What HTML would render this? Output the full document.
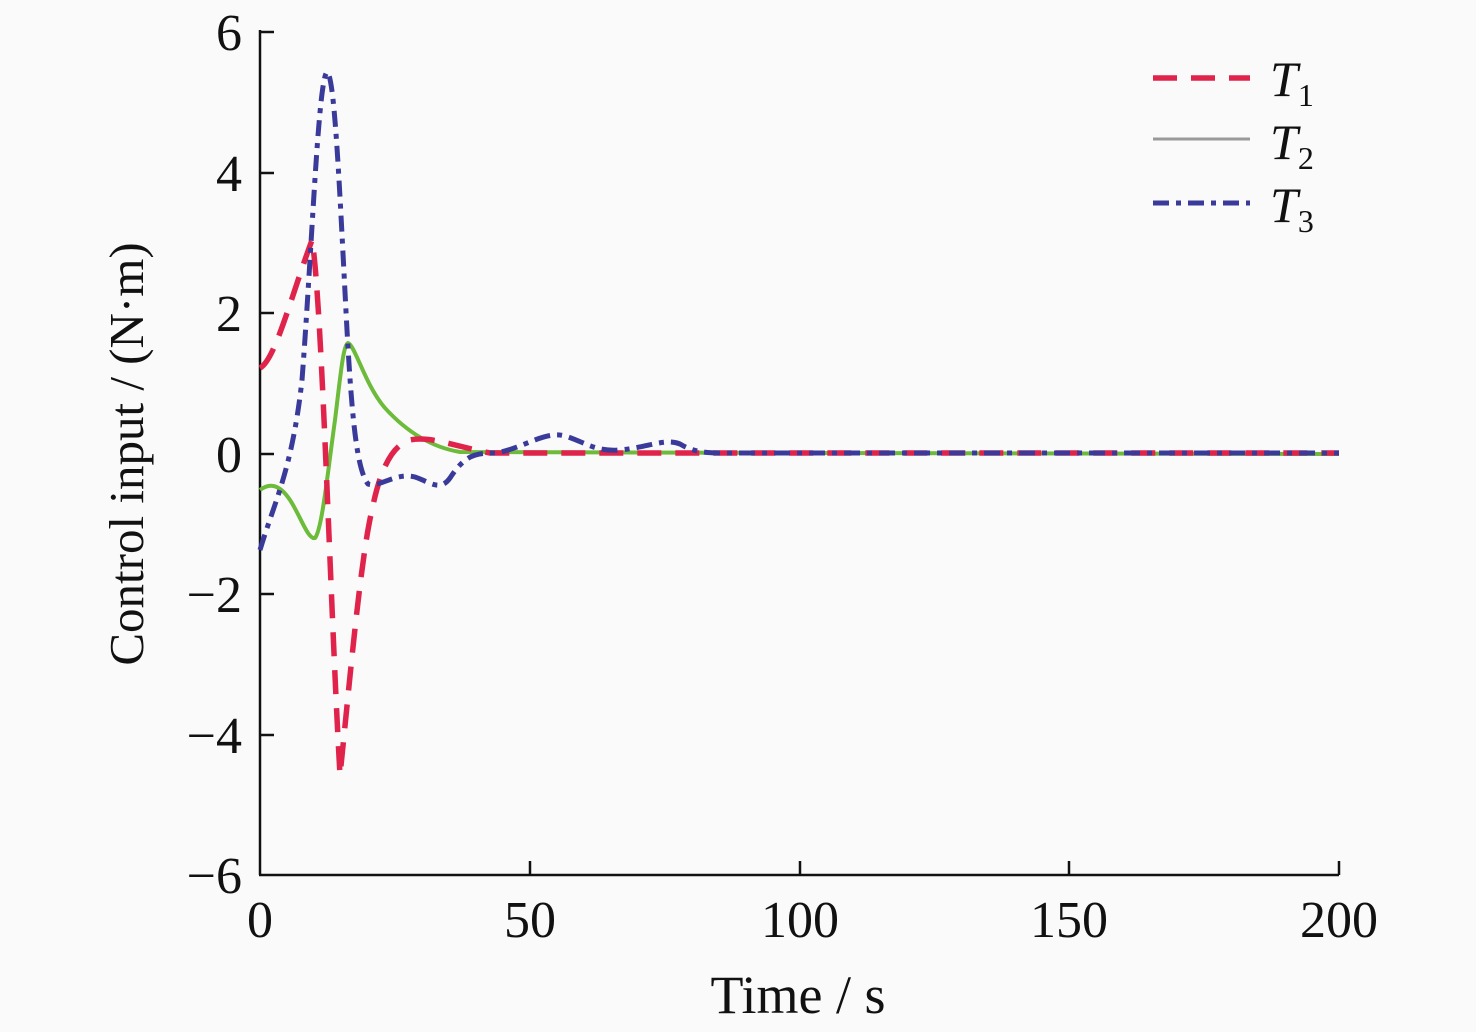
<!DOCTYPE html>
<html><head><style>body{margin:0;background:#fafafa}svg{display:block}text{font-family:"Liberation Serif",serif;fill:#111}</style></head><body>
<svg width="1476" height="1032" viewBox="0 0 1476 1032">
<rect width="1476" height="1032" fill="#fafafa"/>
<g stroke="#111" stroke-width="2.5" fill="none">
<line x1="260" y1="30" x2="260" y2="875"/><line x1="259" y1="875" x2="1339" y2="875"/>
<line x1="260" y1="32" x2="274" y2="32"/><line x1="260" y1="173" x2="274" y2="173"/><line x1="260" y1="313" x2="274" y2="313"/><line x1="260" y1="454" x2="274" y2="454"/><line x1="260" y1="594" x2="274" y2="594"/><line x1="260" y1="735" x2="274" y2="735"/>
<line x1="530" y1="875" x2="530" y2="861"/><line x1="800" y1="875" x2="800" y2="861"/><line x1="1069" y1="875" x2="1069" y2="861"/><line x1="1339" y1="875" x2="1339" y2="861"/>
</g>
<g font-size="52" text-anchor="end">
<text x="242" y="50">6</text><text x="242" y="191">4</text><text x="242" y="331">2</text><text x="242" y="472">0</text><text x="242" y="612">−2</text><text x="242" y="753">−4</text><text x="242" y="893">−6</text>
</g>
<g font-size="52" text-anchor="middle">
<text x="260" y="937">0</text><text x="530" y="937">50</text><text x="800" y="937">100</text><text x="1069" y="937">150</text><text x="1339" y="937">200</text>
<text x="798" y="1013" font-size="54">Time / s</text>
<text transform="translate(143,454) rotate(-90)" font-size="49">Control input / (N·m)</text>
</g>
<path d="M260,490 C268,484 278,482 290,500 C300,515 308,540 315,538 C322,530 328,470 335,420 C340,380 343,345 348,343 C355,345 365,385 385,408 C405,430 430,447 460,452 L800,453 L1339,454" stroke="#6dbb3a" stroke-width="4" fill="none"/>
<path d="M260,368 C275,360 290,300 312,240 C322,300 330,600 340,775 C348,700 360,560 372,510 C380,470 392,445 410,440 C430,436 450,445 490,453 L800,453 L1339,453" stroke="#e0234a" stroke-width="5.5" stroke-dasharray="24,14" fill="none"/>
<path d="M260,550 C275,500 292,470 302,380 C312,250 318,80 327,72 C335,75 340,200 347,330 C352,420 357,470 368,484 C380,488 395,472 415,477 C430,482 440,492 450,478 C465,455 475,453 495,453 C520,450 545,430 565,436 C585,442 595,452 620,450 C650,447 665,438 680,444 C690,450 700,453 720,453 L1339,453" stroke="#3a3a9a" stroke-width="5" stroke-dasharray="16,7,5,7" fill="none"/>
<line x1="1153" y1="78" x2="1250" y2="78" stroke="#e0234a" stroke-width="5.5" stroke-dasharray="24,14"/>
<line x1="1153" y1="139" x2="1250" y2="139" stroke="#999" stroke-width="3"/>
<line x1="1153" y1="203" x2="1250" y2="203" stroke="#3a3a9a" stroke-width="5" stroke-dasharray="16,7,5,7"/>
<g font-size="50" font-style="italic">
<text x="1270" y="96">T<tspan font-size="32" font-style="normal" dy="10">1</tspan></text>
<text x="1270" y="159">T<tspan font-size="32" font-style="normal" dy="10">2</tspan></text>
<text x="1270" y="222">T<tspan font-size="32" font-style="normal" dy="10">3</tspan></text>
</g>
</svg>
</body></html>
